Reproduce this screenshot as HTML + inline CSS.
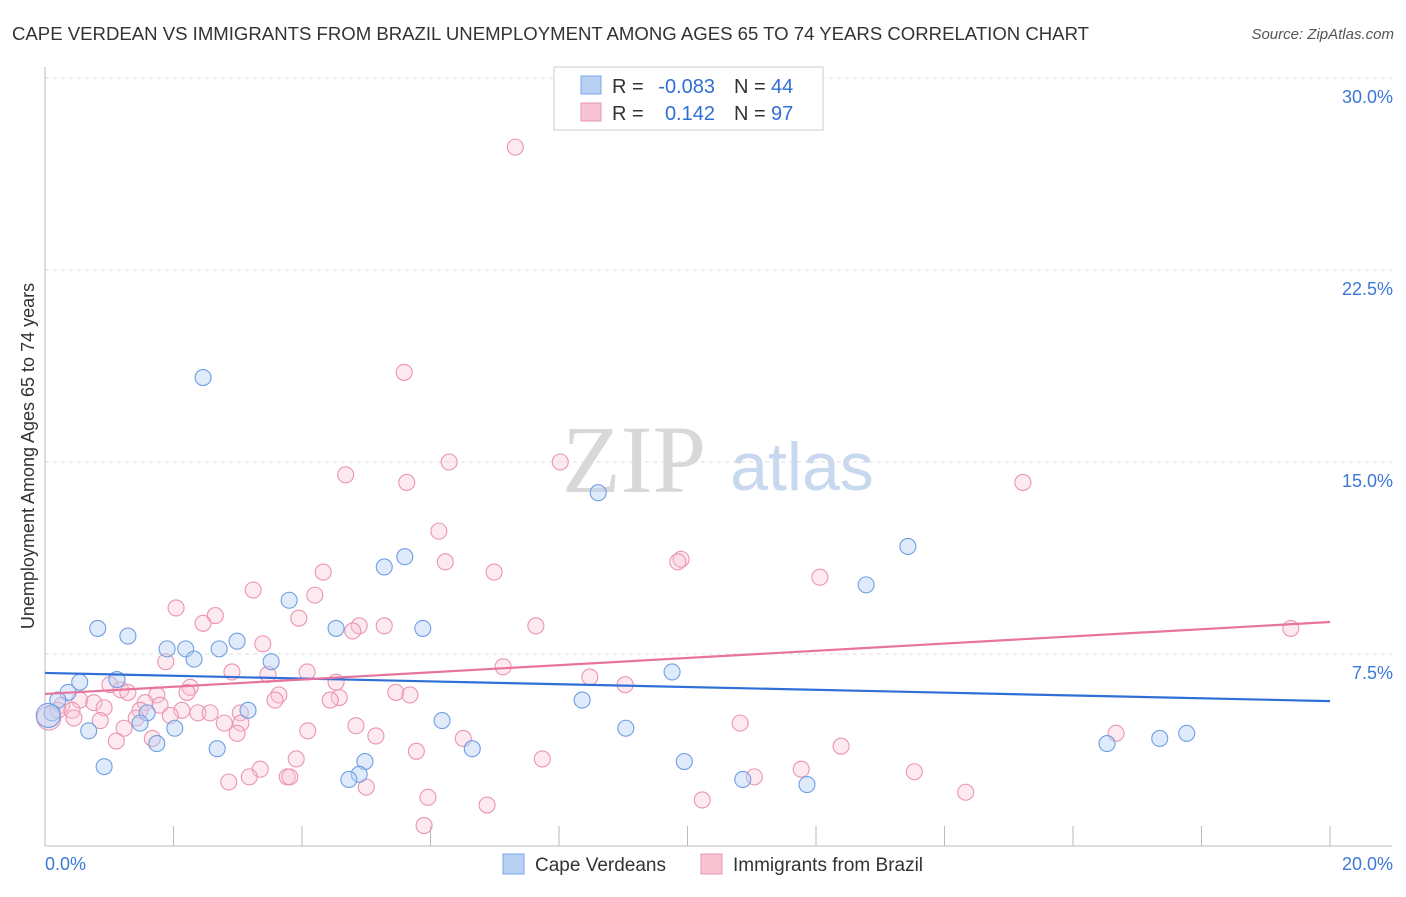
<!DOCTYPE html>
<html><head><meta charset="utf-8"><style>
body{margin:0;background:#fff;font-family:"Liberation Sans",sans-serif}
svg text{font-family:"Liberation Sans",sans-serif}
</style></head><body>
<svg id="c" width="1406" height="892">
<text x="12" y="40" font-size="18.6" fill="#333" textLength="1077" lengthAdjust="spacingAndGlyphs">CAPE VERDEAN VS IMMIGRANTS FROM BRAZIL UNEMPLOYMENT AMONG AGES 65 TO 74 YEARS CORRELATION CHART</text>
<text x="1394" y="39" font-size="15" fill="#555" font-style="italic" text-anchor="end">Source: ZipAtlas.com</text>
<text x="634" y="492" font-size="96" fill="#d8d8d8" text-anchor="middle" style="font-family:'Liberation Serif',serif">ZIP</text>
<text x="802" y="490" font-size="68" fill="#c8d8ef" text-anchor="middle">atlas</text>
<text transform="translate(34,456) rotate(-90)" font-size="18" fill="#333" text-anchor="middle">Unemployment Among Ages 65 to 74 years</text>
<g id="grid"></g><g id="axes"></g><g id="pts"></g><g id="trend"></g>
<g>
<rect x="554" y="67" width="269" height="63" fill="#fff" stroke="#ccc"/>
<rect x="581" y="76" width="20" height="18" fill="#b8d0f4" stroke="#7aa6e6"/>
<rect x="581" y="103" width="20" height="18" fill="#f8c4d4" stroke="#eb94b2"/>
<text x="612" y="93" font-size="20" fill="#333">R =</text>
<text x="715" y="93" font-size="20" fill="#2f6fd6" text-anchor="end">-0.083</text>
<text x="734" y="93" font-size="20" fill="#333">N =</text>
<text x="771" y="93" font-size="20" fill="#2f6fd6">44</text>
<text x="612" y="120" font-size="20" fill="#333">R =</text>
<text x="715" y="120" font-size="20" fill="#2f6fd6" text-anchor="end">0.142</text>
<text x="734" y="120" font-size="20" fill="#333">N =</text>
<text x="771" y="120" font-size="20" fill="#2f6fd6">97</text>
</g>
<g>
<rect x="503" y="854" width="21" height="20" fill="#b8d0f4" stroke="#7aa6e6"/>
<text x="535" y="871" font-size="19" fill="#333">Cape Verdeans</text>
<rect x="701" y="854" width="21" height="20" fill="#f8c4d4" stroke="#eb94b2"/>
<text x="733" y="871" font-size="19" fill="#333">Immigrants from Brazil</text>
</g>
</svg>
<script>
const yTicks=[7.5,15,22.5,30];
const yTickLabels=["7.5%","15.0%","22.5%","30.0%"];
const xTicks=[0,2,4,6,8,10,12,14,16,18,20];
const blueX=[2.46,8.61,13.43,5.60,5.28,12.78,3.80,0.82,1.29,4.53,5.88,2.99,1.90,2.19,2.71,2.32,3.52,9.76,1.12,0.54,0.36,0.20,0.11,0.05,8.36,3.16,1.59,1.48,6.18,2.02,0.68,9.04,1.74,2.68,6.65,16.53,17.35,17.77,0.92,4.98,9.95,4.89,4.73,10.86,11.86];
const blueY=[18.3,13.8,11.7,11.3,10.9,10.2,9.6,8.5,8.2,8.5,8.5,8.0,7.7,7.7,7.7,7.3,7.2,6.8,6.5,6.4,6.0,5.7,5.2,5.1,5.7,5.3,5.2,4.8,4.9,4.6,4.5,4.6,4.0,3.8,3.8,4.0,4.2,4.4,3.1,3.3,3.3,2.8,2.6,2.6,2.4];
const pinkX=[7.32,5.59,4.68,6.29,8.02,5.63,15.22,6.13,6.23,9.90,9.85,6.99,4.33,12.06,3.24,4.20,2.04,2.65,3.95,2.46,7.64,5.28,4.89,4.79,19.39,3.39,1.88,7.13,4.08,2.91,3.47,4.53,8.48,9.03,1.01,2.26,1.18,1.29,2.21,1.74,3.64,5.46,5.68,4.58,4.44,3.58,1.56,1.79,0.54,0.76,0.26,0.20,0.42,0.92,1.48,2.13,2.38,2.57,1.95,3.04,0.06,0.45,0.86,1.42,2.79,3.05,10.82,4.84,1.23,4.09,2.99,5.15,16.67,6.51,1.67,1.11,12.39,5.78,7.74,3.91,3.35,11.77,13.53,3.77,3.81,3.18,11.04,2.86,5.00,14.33,5.96,10.23,6.88,5.90];
const pinkY=[27.3,18.5,14.5,15.0,15.0,14.2,14.2,12.3,11.1,11.2,11.1,10.7,10.7,10.5,10.0,9.8,9.3,9.0,8.9,8.7,8.6,8.6,8.6,8.4,8.5,7.9,7.2,7.0,6.8,6.8,6.7,6.4,6.6,6.3,6.3,6.2,6.1,6.0,6.0,5.9,5.9,6.0,5.9,5.8,5.7,5.7,5.6,5.5,5.7,5.6,5.5,5.3,5.3,5.4,5.3,5.3,5.2,5.2,5.1,5.2,5.0,5.0,4.9,5.0,4.8,4.8,4.8,4.7,4.6,4.5,4.4,4.3,4.4,4.2,4.2,4.1,3.9,3.7,3.4,3.4,3.0,3.0,2.9,2.7,2.7,2.7,2.7,2.5,2.3,2.1,1.9,1.8,1.6,0.8];
const blueTrend=[6.76,5.66];
const pinkTrend=[5.94,8.75];
const NS="http://www.w3.org/2000/svg";
const xs=v=>45+v*64.25, ys=v=>846-v*25.6;
function mk(t,a,p){const e=document.createElementNS(NS,t);for(const k in a)e.setAttribute(k,a[k]);p.appendChild(e);return e;}
const grid=document.getElementById('grid'),axes=document.getElementById('axes'),pts=document.getElementById('pts'),tr=document.getElementById('trend');
yTicks.forEach((v,i)=>{
 const l=mk('line',{x1:45,x2:1392,y1:ys(v),y2:ys(v),stroke:'#ddd','stroke-dasharray':'4,4'},grid);
 
 
 const t=mk('text',{x:1393,y:ys(v)+25,'font-size':18,fill:'#3b78d8','text-anchor':'end'},grid);
 t.textContent=yTickLabels[i];
 
 
});
const al=mk('line',{x1:45,x2:45,y1:67,y2:846,stroke:'#bbb'},axes);


const bl=mk('line',{x1:45,x2:1392,y1:846,y2:846,stroke:'#bbb'},axes);


xTicks.forEach(v=>{
 const t=mk('line',{x1:xs(v),x2:xs(v),y1:826,y2:846,stroke:'#bbb'},axes);
 
 
});
const x0=mk('text',{x:45,y:870,'font-size':18,fill:'#3b78d8'},axes);x0.textContent='0.0%';


const x1=mk('text',{x:1393,y:870,'font-size':18,fill:'#3b78d8','text-anchor':'end'},axes);x1.textContent='20.0%';


function dots(X,Y,fill,stroke,name){X.forEach((x,i)=>{
 const c=mk('circle',{cx:xs(x),cy:ys(Y[i]),r:(x<0.1?12:8),fill:fill,stroke:stroke,'stroke-width':1.1},pts);
 
 
});}
dots(pinkX,pinkY,'rgba(248,196,212,0.35)','#eb94b2','brazil-point');
dots(blueX,blueY,'rgba(184,208,244,0.45)','#6f9ee3','cape-verdean-point');
const b=mk('line',{x1:xs(0),x2:xs(20),y1:ys(blueTrend[0]),y2:ys(blueTrend[1]),stroke:'#2f6fd6','stroke-width':2.2},tr);


const p=mk('line',{x1:xs(0),x2:xs(20),y1:ys(pinkTrend[0]),y2:ys(pinkTrend[1]),stroke:'#e8739d','stroke-width':2.2},tr);


</script>
</body></html>
